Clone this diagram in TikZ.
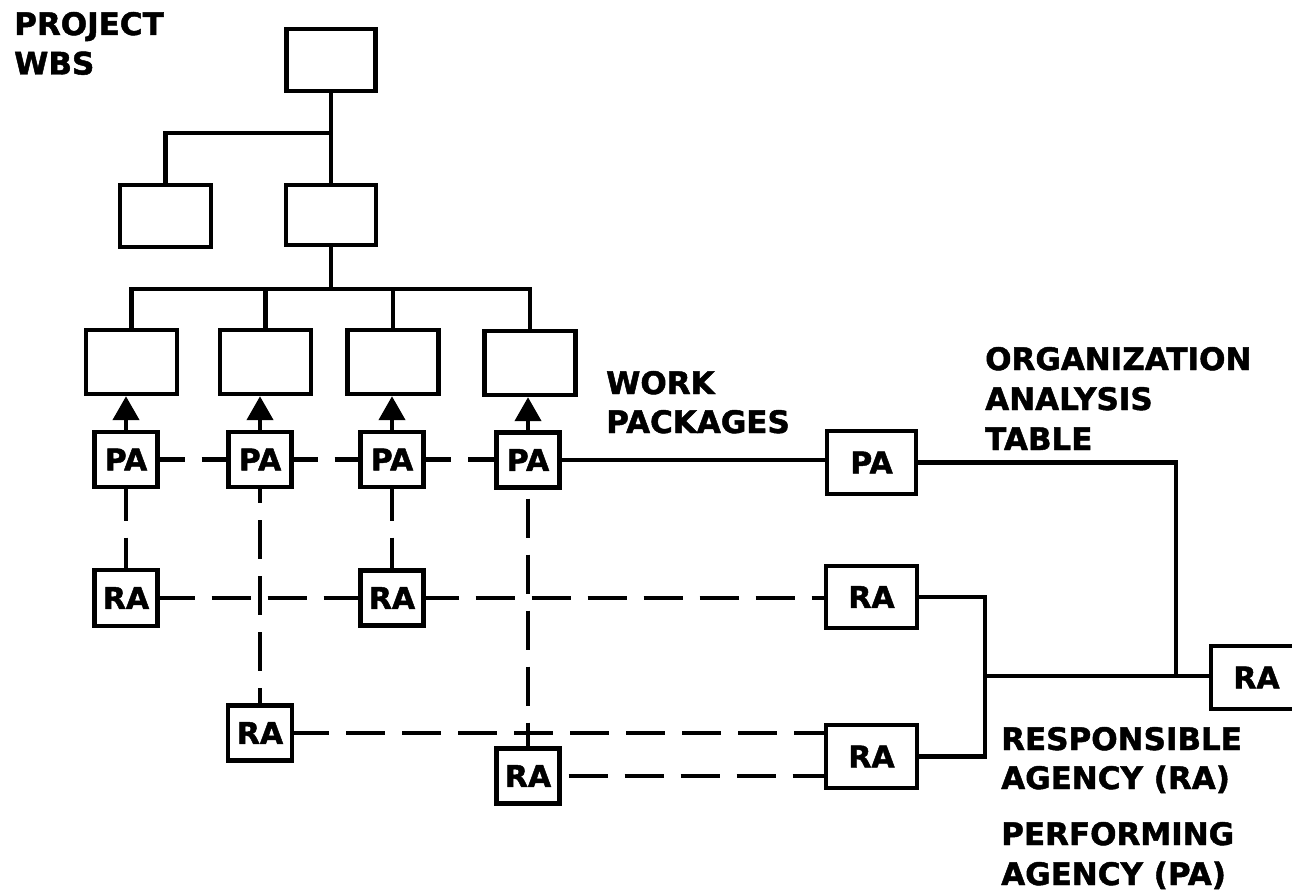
\documentclass[tikz,border=0pt]{standalone}
\usepackage{fontspec}
\setmainfont{DejaVu Sans}[BoldFeatures={FakeBold=1.5}]
\usetikzlibrary{arrows.meta}
\begin{document}
\begin{tikzpicture}[x=1pt,y=-1pt,
  line width=4.4pt,
  box/.style={draw, line width=4.4pt, inner sep=0pt, minimum width=91pt, minimum height=64pt},
  tag/.style={box, minimum width=63pt, minimum height=55pt, font=\bfseries\fontsize{30}{36}\selectfont},
  bigtag/.style={box, minimum width=91pt, minimum height=63pt, font=\bfseries\fontsize{30}{36}\selectfont},
  caption/.style={anchor=base west, inner sep=0pt, font=\bfseries\fontsize{31}{37}\selectfont},
  dsh/.style={dash pattern=on 39pt off 17pt},
  midgap/.style={dash pattern=on #1 off 17pt on 400pt},
  up/.style={-{Triangle[width=26pt,length=24pt]}}
]
\useasboundingbox (0,0) rectangle (1292,893);
\fill[white] (0,0) rectangle (1292,893);
\clip (0,0) rectangle (1292,893);

% WBS tree
\node[box, minimum width=89pt, minimum height=62pt] (top) at (331,60) {};
\node[box, minimum height=62pt] (l2a) at (165.5,216) {};
\node[box, minimum width=90pt, minimum height=60pt] (l2b) at (331,215) {};
\node[box] (wp1) at (131.5,362) {};
\node[box] (wp2) at (265.5,362) {};
\node[box] (wp3) at (393,362) {};
\node[box] (wp4) at (530,363) {};
\coordinate (j1) at (331,133);
\coordinate (j2) at (331,289);

\draw (top.south) -- (l2b.north);
\draw (l2a.north) |- (j1);
\draw (l2b.south) -- (j2);
\draw (wp1.north) |- (wp4.north |- j2) -- (wp4.north);
\draw (wp2.north) -- (wp2.north |- j2);
\draw (wp3.north) -- (wp3.north |- j2);

% performing agencies
\node[tag] (pa1) at (126,459.5) {PA};
\node[tag] (pa2) at (260,459.5) {PA};
\node[tag] (pa3) at (392,459.5) {PA};
\node[tag] (pa4) at (528,460) {PA};

% responsible agencies
\node[tag, minimum height=56pt] (ra1) at (126,598) {RA};
\node[tag] (ra3) at (392,598) {RA};
\node[tag, minimum width=64pt] (ra2) at (260,733) {RA};
\node[tag] (ra4) at (528,776) {RA};

% organization analysis table
\node[bigtag, minimum width=89pt] (par) at (871.5,462.5) {PA};
\node[bigtag, minimum height=62pt] (ram) at (871.5,597) {RA};
\node[bigtag] (rab) at (871.5,756.5) {RA};
\node[bigtag] (rar) at (1256.5,677.5) {RA};
\coordinate (jm) at (985,676);
\coordinate (jr) at (1176,676);

% arrows from PA to work packages
\foreach \p/\w in {pa1/wp1, pa2/wp2, pa3/wp3, pa4/wp4}
  \draw[up] (\p.north) -- (\p.north |- \w.south);

% dashed links
\draw[midgap=25pt] (pa1.east) -- (pa2.west);
\draw[midgap=24pt] (pa2.east) -- (pa3.west);
\draw[midgap=25.5pt] (pa3.east) -- (pa3.east -| pa4.west);
\draw[midgap=31.5pt] (pa1.south) -- (ra1.north);
\draw[midgap=31.5pt] (pa3.south) -- (ra3.north);
\draw[dsh, dash phase=25pt] (pa2.south) -- (ra2.north);
\draw[dsh, dash phase=47pt] (pa4.south) -- (ra4.north);
\draw[dsh, dash phase=4pt] (ra1.east) -- (ra3.west);
\draw[dsh, dash phase=6pt] (ra3.east) -- (ra3.east -| ram.west);
\draw[dsh, dash phase=4pt] (ra2.east) -- (ra2.east -| rab.west);
\draw[dsh, dash phase=49pt] (ra4.east) -- (ra4.east -| rab.west);

% solid links
\draw (pa4.east) -- (pa4.east -| par.west);
\draw (par.east) -| (jr);
\draw (ram.east) -| (jm);
\draw (rab.east) -| (jm);
\draw (jm) -- (jm -| rar.west);

% captions
\node[caption] (t1) at (12,35) {PROJECT};
\node[caption] (t2) at (12,74.5) {WBS};
\node[caption] (t3) at (604,394) {WORK};
\node[caption] (t4) at (604,433) {PACKAGES};
\node[caption] (t5) at (983,370) {ORGANIZATION};
\node[caption] (t6) at (983,410) {ANALYSIS};
\node[caption] (t7) at (983,450) {TABLE};
\node[caption] (t8) at (999,750) {RESPONSIBLE};
\node[caption] (t9) at (999,789) {AGENCY (RA)};
\node[caption] (t10) at (999,845) {PERFORMING};
\node[caption] (t11) at (999,885) {AGENCY (PA)};
\end{tikzpicture}
\end{document}
